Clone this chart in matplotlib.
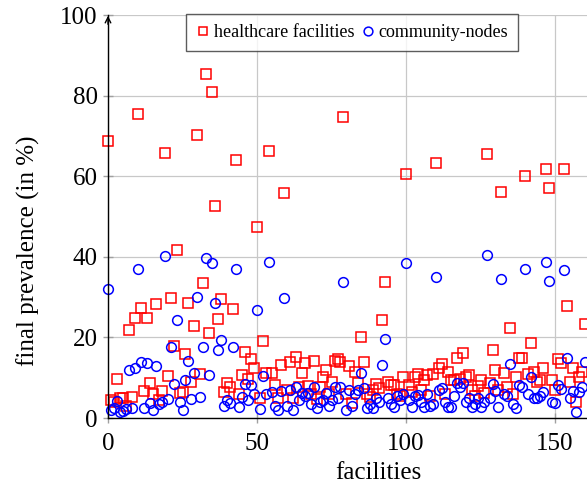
import numpy as np
import matplotlib
matplotlib.use("Agg")
import matplotlib.pyplot as plt

plt.rcParams['font.family'] = ['Liberation Serif', 'DejaVu Serif']
plt.rcParams['mathtext.fontset'] = 'stix'

# final prevalence (in %) per facility index
healthcare = [
    68.7, 4.5, 4.0, 9.8, 5.0, 4.9, 3.0, 21.8, 5.3, 24.7,      # 0-9
    75.4, 27.4, 6.7, 24.9, 8.6, 5.9, 28.3, 4.5, 6.7, 65.8,    # 10-19
    10.5, 29.7, 17.9, 41.7, 6.1, 6.5, 16.0, 28.5, 9.0, 22.9,  # 20-29
    70.2, 10.8, 33.5, 85.4, 21.2, 80.9, 52.6, 24.6, 29.5, 6.5,  # 30-39
    8.6, 7.8, 27.0, 64.0, 5.9, 10.7, 16.5, 9.8, 14.6, 12.3,   # 40-49
    47.4, 4.9, 19.0, 11.2, 66.3, 11.1, 8.2, 5.0, 13.2, 55.8,  # 50-59
    7.0, 14.0, 5.0, 15.1, 7.7, 11.2, 13.7, 8.0, 6.0, 14.1,    # 60-69
    4.7, 7.7, 10.2, 11.9, 6.0, 9.0, 14.1, 14.6, 14.0, 74.7,   # 70-79
    6.0, 12.9, 3.7, 11.3, 8.7, 20.1, 13.9, 6.0, 5.2, 7.0,     # 80-89
    8.4, 7.4, 24.3, 33.7, 9.0, 8.2, 8.2, 6.0, 5.5, 10.2,      # 90-99
    60.5, 8.2, 6.5, 10.2, 10.8, 7.0, 9.4, 10.7, 5.5, 10.8,    # 100-109
    63.3, 12.3, 13.5, 6.0, 11.3, 9.4, 9.5, 14.9, 9.7, 16.1,   # 110-119
    10.2, 10.7, 7.0, 5.5, 8.0, 9.5, 6.2, 65.5, 8.6, 16.9,     # 120-129
    11.9, 7.0, 56.0, 11.1, 7.7, 22.3, 6.0, 10.2, 14.9, 15.0,  # 130-139
    60.0, 11.0, 18.6, 11.4, 9.0, 9.4, 12.4, 61.8, 57.0, 9.4,  # 140-149
    7.0, 14.7, 13.6, 61.8, 27.8, 9.0, 12.4, 4.0, 10.2, 11.4,  # 150-159
    23.3,                                                     # 160
]
community = [
    32.0, 2.0, 2.5, 4.2, 1.5, 1.8, 2.2, 11.9, 2.5, 12.3,
    37.0, 13.8, 2.6, 13.6, 3.6, 2.0, 13.0, 3.4, 4.0, 40.2,
    4.6, 17.7, 8.4, 24.4, 4.0, 2.0, 9.4, 14.1, 4.7, 11.1,
    30.0, 5.3, 17.7, 39.7, 10.7, 38.5, 28.5, 16.9, 19.4, 3.1,
    4.5, 3.6, 17.5, 37.0, 2.8, 5.3, 8.4, 4.4, 8.2, 5.9,
    26.8, 2.2, 10.5, 6.0, 38.6, 6.5, 3.0, 2.0, 6.8, 29.7,
    3.0, 6.9, 2.0, 7.7, 4.5, 6.2, 5.5, 6.2, 3.5, 7.7,
    2.5, 4.0, 4.5, 6.2, 3.0, 4.5, 7.7, 5.0, 7.7, 33.7,
    2.0, 6.9, 3.0, 6.0, 7.0, 11.1, 7.4, 2.5, 3.5, 2.5,
    5.0, 4.0, 13.2, 19.7, 5.0, 3.5, 2.7, 5.5, 4.5, 6.0,
    38.5, 4.5, 2.7, 5.5, 5.7, 4.0, 2.7, 6.0, 3.0, 3.5,
    35.0, 7.0, 7.5, 4.0, 2.7, 2.7, 5.5, 8.7, 7.8, 8.6,
    4.0, 5.0, 2.7, 3.5, 5.0, 2.7, 4.0, 40.4, 5.0, 8.4,
    6.6, 2.7, 34.5, 6.0, 5.5, 13.4, 3.5, 2.5, 8.2, 7.7,
    37.0, 6.0, 10.2, 5.0, 5.0, 5.5, 6.5, 38.7, 34.0, 4.0,
    3.7, 8.3, 7.3, 36.7, 14.9, 5.0, 6.6, 1.5, 6.5, 7.7,
    14.0,
]
facility = np.arange(len(healthcare))

W, H = 587, 486
fig = plt.figure(figsize=(W / 100, H / 100), dpi=100)
ax = fig.add_axes([108 / W, 68 / H, 479 / W, 403 / H])

ax.plot(facility, healthcare, 's', ms=7, mfc='none', mec='#ff0000', mew=1.1,
        linestyle='none', label='healthcare facilities', clip_on=False)
ax.plot(facility, community, 'o', ms=7, mfc='none', mec='#0000ff', mew=1.1,
        linestyle='none', label='community-nodes', clip_on=False)

ax.set_xlim(0, 160.7)
ax.set_ylim(0, 100)
ax.set_xticks([0, 50, 100, 150])
ax.set_yticks([0, 20, 40, 60, 80, 100])
ax.grid(True, color='#c8c8c8', linewidth=0.9)
ax.set_axisbelow(True)

for side in ['top', 'right']:
    ax.spines[side].set_visible(False)
for side in ['left', 'bottom']:
    ax.spines[side].set_color('black')
    ax.spines[side].set_linewidth(1.0)
ax.annotate('', xy=(0, 1.005), xytext=(0, 0.97), xycoords='axes fraction',
            arrowprops=dict(arrowstyle='->', color='black', lw=1.0))

ax.tick_params(axis='both', direction='inout', length=7, width=1.0,
               color='#a0a0a0', labelsize=18, pad=4)
ax.tick_params(axis='x', pad=7)

ax.set_xlabel('facilities', fontsize=18)
ax.set_ylabel('final prevalence (in %)', fontsize=18)
ax.xaxis.set_label_coords(0.564, -0.108)
ax.yaxis.set_label_coords(-0.142, 0.414)

leg = ax.legend(loc='upper left', bbox_to_anchor=(186 / W, 1 - 14 / H),
                bbox_transform=fig.transFigure, ncol=2, fontsize=13,
                frameon=True, fancybox=False, handlelength=0.8,
                handletextpad=0.2, columnspacing=0.35, borderpad=0.55,
                borderaxespad=0, markerscale=0.9)
leg.get_frame().set_edgecolor('#333333')
leg.get_frame().set_linewidth(1.0)

fig.savefig('out.png', dpi=100)
